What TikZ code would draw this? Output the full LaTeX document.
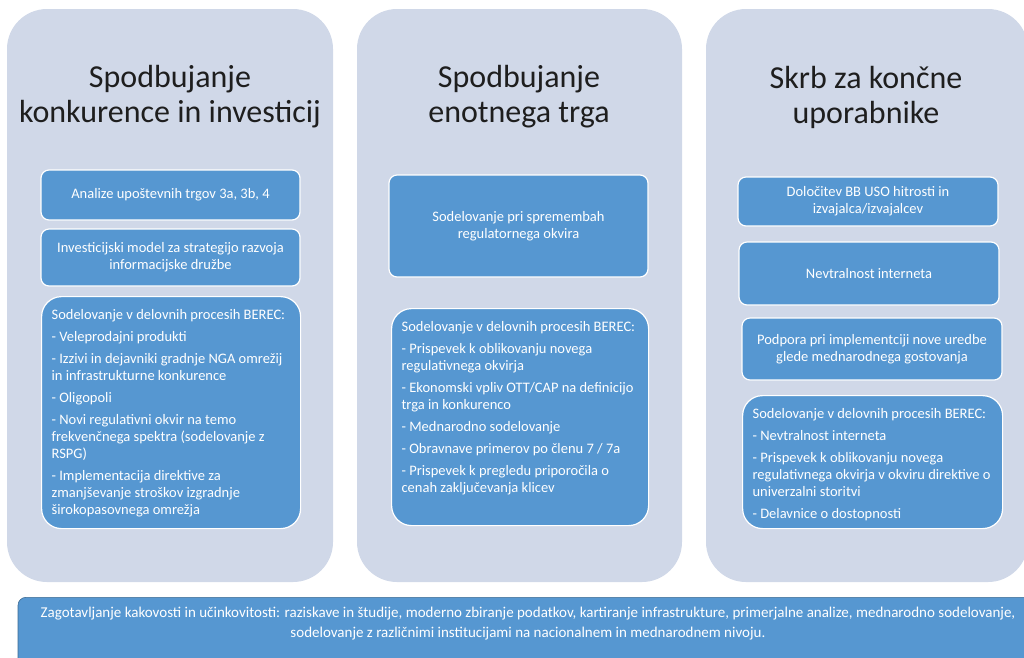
\documentclass[tikz,border=0pt]{standalone}
\usepackage{fontspec}
\setmainfont{Carlito}
\usepackage{tikz}

\definecolor{panelgray}{RGB}{208,216,232}
\definecolor{boxblue}{RGB}{86,151,209}
\definecolor{titlegray}{RGB}{30,30,30}

\begin{document}
\begin{tikzpicture}[x=1pt, y=-1pt,
  panel/.style={fill=panelgray, rounded corners=40pt},
  bluebox/.style={draw=white, line width=1.2pt, fill=boxblue, rounded corners=8pt,
    text=white, align=center, inner sep=0pt, font=\fontsize{14.5}{17.2}\selectfont},
  listbox/.style={bluebox, rounded corners=20pt, anchor=north west, inner xsep=10pt, inner ysep=13pt},
  headline/.style={text=titlegray, align=center, font=\fontsize{32}{35}\selectfont}]

\useasboundingbox (0,0) rectangle (1024,657);

% three columns
\fill[panel] (7,9) rectangle (333,582);
\fill[panel] (357,9) rectangle (682,582);
\fill[panel] (706,9) rectangle (1028,582);

\node[headline] (konkurenca) at (170,97) {Spodbujanje\\konkurence in investicij};
\node[headline] (trg) at (519,97) {Spodbujanje\\enotnega trga};
\node[headline] (uporabniki) at (866,97) {Skrb za končne\\uporabnike};

% first column
\node[bluebox, minimum width=259pt, minimum height=50pt] (analize) at (170.5,195)
  {Analize upoštevnih trgov 3a, 3b, 4};
\node[bluebox, minimum width=259pt, minimum height=57pt] (model) at (170.5,257.5)
  {Investicijski model za strategijo razvoja\\informacijske družbe};
\node[listbox] (berecA) at (41,296)
  {\parbox[t][206pt][t]{239pt}{\raggedright\setlength{\parskip}{4.6pt}%
   Sodelovanje v delovnih procesih BEREC:\par
   - Veleprodajni produkti\par
   - Izzivi in dejavniki gradnje NGA omrežij\\in infrastrukturne konkurence\par
   - Oligopoli\par
   - Novi regulativni okvir na temo\\frekvenčnega spektra (sodelovanje z\\RSPG)\par
   - Implementacija direktive za\\zmanjševanje stroškov izgradnje\\širokopasovnega omrežja}};

% second column
\node[bluebox, minimum width=259pt, minimum height=102pt] (okvir) at (518.5,226)
  {Sodelovanje pri spremembah\\regulatornega okvira};
\node[listbox] (berecB) at (391,308)
  {\parbox[t][191pt][t]{237pt}{\raggedright\setlength{\parskip}{4.6pt}%
   Sodelovanje v delovnih procesih BEREC:\par
   - Prispevek k oblikovanju novega\\regulativnega okvirja\par
   - Ekonomski vpliv OTT/CAP na definicijo\\trga in konkurenco\par
   - Mednarodno sodelovanje\par
   - Obravnave primerov po členu 7 / 7a\par
   - Prispevek k pregledu priporočila o\\cenah zaključevanja klicev}};

% third column
\node[bluebox, minimum width=260pt, minimum height=49pt] (uso) at (868,201.5)
  {Določitev BB USO hitrosti in\\izvajalca/izvajalcev};
\node[bluebox, minimum width=260pt, minimum height=63pt] (nevtralnost) at (869,273.5)
  {Nevtralnost interneta};
\node[bluebox, minimum width=260pt, minimum height=62pt] (gostovanje) at (872,349)
  {Podpora pri implementciji nove uredbe\\glede mednarodnega gostovanja};
\node[listbox] (berecC) at (742,395)
  {\parbox[t][107pt][t]{240pt}{\raggedright\setlength{\parskip}{4.6pt}%
   Sodelovanje v delovnih procesih BEREC:\par
   - Nevtralnost interneta\par
   - Prispevek k oblikovanju novega\\regulativnega okvirja v okviru direktive o\\univerzalni storitvi\par
   - Delavnice o dostopnosti}};

% bottom bar
\node[bluebox, draw=boxblue!70!black, line width=0.6pt, anchor=north, inner sep=8pt] (kakovost) at (528,597)
  {\parbox[t][56pt][t]{1004pt}{\centering\fontsize{15}{20}\selectfont\vspace*{2pt}%
   Zagotavljanje kakovosti in učinkovitosti: raziskave in študije, moderno zbiranje podatkov, kartiranje infrastrukture, primerjalne analize, mednarodno sodelovanje,\\
   sodelovanje z različnimi institucijami na nacionalnem in mednarodnem nivoju.}};

\end{tikzpicture}
\end{document}
